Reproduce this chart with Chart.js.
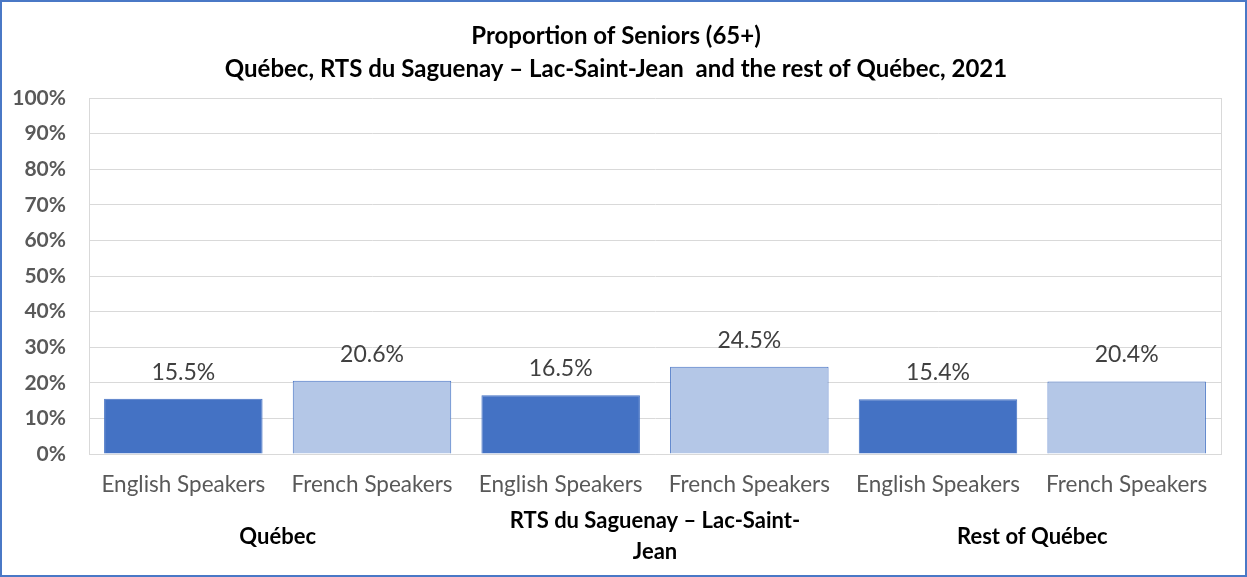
<!DOCTYPE html>
<html>
<head>
<meta charset="utf-8">
<script src="https://cdn.jsdelivr.net/npm/chart.js@4"></script>
<style>
  html, body { margin: 0; padding: 0; background: #fff; }
  #wrap {
    position: absolute; left: 0; top: 0;
    width: 1247px; height: 577px;
    box-sizing: border-box;
    border: 2px solid #4a78c6;
    background: #fff;
  }
</style>
</head>
<body>
<div id="wrap"><canvas id="seniorsChart"></canvas></div>
<script>
// Données
const categories = ['English Speakers', 'French Speakers', 'English Speakers', 'French Speakers', 'English Speakers', 'French Speakers'];
const groups = [['Québec'], ['RTS du Saguenay – Lac-Saint-', 'Jean'], ['Rest of Québec']];
const values = [15.5, 20.6, 16.5, 24.5, 15.4, 20.4];
const titleLines = ['Proportion of Seniors (65+)', 'Québec, RTS du Saguenay – Lac-Saint-Jean  and the rest of Québec, 2021'];

const FONT = 'Lato, "Open Sans", sans-serif';
const DARK = '#4472c4';
const LIGHT = '#b4c7e7';

// plugin kecil: label nilai, nama grup dan bingkai area plot
const extras = {
    id: 'extras',
    afterDatasetsDraw(chart) {
        const ctx = chart.ctx;
        const meta = chart.getDatasetMeta(0);
        ctx.save();
        ctx.fillStyle = '#404040';
        ctx.font = '23px ' + FONT;
        ctx.textAlign = 'center';
        ctx.textBaseline = 'alphabetic';
        meta.data.forEach((bar, i) => {
            ctx.fillText(values[i].toFixed(1) + '%', bar.x, bar.y - 19);
        });

        // nama grup di bawah sumbu x
        const x = chart.scales.x;
        ctx.fillStyle = '#000';
        ctx.font = 'bold 22px ' + FONT;
        ctx.textBaseline = 'middle';
        groups.forEach((lines, g) => {
            const cx = (x.getPixelForValue(g * 2) + x.getPixelForValue(g * 2 + 1)) / 2;
            const startY = lines.length > 1 ? 519 : 535;
            lines.forEach((t, k) => ctx.fillText(t, cx, startY + k * 31));
        });

        // bingkai kanan area plot
        const a = chart.chartArea;
        ctx.strokeStyle = '#d9d9d9';
        ctx.lineWidth = 1;
        ctx.beginPath();
        ctx.moveTo(Math.round(a.right) + 0.5, a.top);
        ctx.lineTo(Math.round(a.right) + 0.5, a.bottom);
        ctx.stroke();
        ctx.restore();
    }
};

const ctx = document.getElementById('seniorsChart').getContext('2d');
new Chart(ctx, {
    type: 'bar',
    data: {
        labels: categories,
        datasets: [{
            data: values,
            backgroundColor: values.map((v, i) => i % 2 === 0 ? DARK : LIGHT),
            borderColor: DARK,
            borderWidth: 1,
            categoryPercentage: 1,
            barPercentage: 0.84
        }]
    },
    options: {
        responsive: true,
        maintainAspectRatio: false,
        animation: false,
        layout: { padding: { left: 9, right: 24, top: 6, bottom: 68 } },
        scales: {
            x: {
                grid: { display: false },
                border: { color: '#d9d9d9' },
                afterFit(scale) {
                    scale.paddingLeft = 0;
                    scale.paddingRight = 0;
                },
                ticks: {
                    color: '#595959',
                    font: { family: FONT, size: 22.5 },
                    padding: 9,
                    maxRotation: 0,
                    autoSkip: false
                }
            },
            y: {
                min: 0,
                max: 100,
                grid: { color: '#d9d9d9', drawTicks: false },
                border: { color: '#d9d9d9' },
                afterFit(scale) {
                    // lebar sumbu y tetap
                    scale.width = 78;
                },
                ticks: {
                    stepSize: 10,
                    color: '#595959',
                    font: { family: FONT, size: 21, weight: 'bold' },
                    padding: 23,
                    callback: v => v + '%'
                }
            }
        },
        plugins: {
            legend: { display: false },
            tooltip: { enabled: false },
            title: {
                display: true,
                text: titleLines,
                color: '#000',
                font: { family: FONT, size: 24, weight: 'bold', lineHeight: 1.375 },
                padding: { top: 12, bottom: 12 }
            }
        }
    },
    plugins: [extras]
});
</script>
</body>
</html>
